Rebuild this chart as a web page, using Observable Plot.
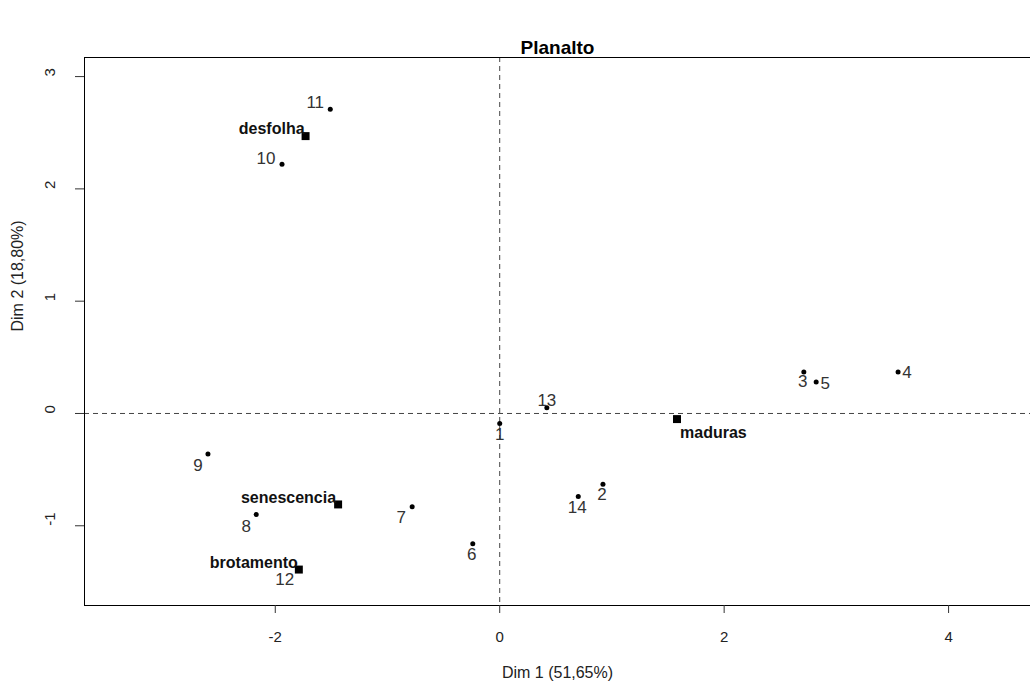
<!DOCTYPE html>
<html><head><meta charset="utf-8">
<script src="https://cdn.jsdelivr.net/npm/d3@7"></script>
<script src="https://cdn.jsdelivr.net/npm/@observablehq/plot@0.6"></script>
<style>body{margin:0;background:#fff} svg{display:block}</style>
</head><body><div id="chart"></div>
<script>
// ---- data ----
const rowNames = ["1","2","3","4","5","6","7","8","9","10","11","12","13","14"];
const rowDim1  = [0.00, 0.92, 2.71, 3.55, 2.82, -0.24, -0.78, -2.17, -2.60, -1.94, -1.51, -1.80, 0.42, 0.70];
const rowDim2  = [-0.09, -0.63, 0.37, 0.37, 0.28, -1.16, -0.83, -0.90, -0.36, 2.22, 2.71, -1.38, 0.05, -0.74];
const colNames = ["desfolha","senescencia","brotamento","maduras"];
const colDim1  = [-1.73, -1.44, -1.79, 1.58];
const colDim2  = [2.47, -0.81, -1.39, -0.05];
const xTicks = [-2, 0, 2, 4];
const yTicks = [-1, 0, 1, 2, 3];
const title = "Planalto";
const xTitle = "Dim 1 (51,65%)";
const yTitle = "Dim 2 (18,80%)";

// ---- layout (label nudges in px, not data) ----
const rowNudge = [[0,11],[-1,10],[-1,10],[9,1],[9,2],[-1,11],[-11,11],[-10,12],[-10,12],[-16,-6],[-15,-7],[-13,11],[0,-7],[-1,11]];
const colNudge = [[-1,-7,"end"],[-2,-7,"end"],[-1,-7,"end"],[3,14,"start"]];

const rows = rowNames.map((n,i)=>({name:n, d1:rowDim1[i], d2:rowDim2[i]}));
const cols = colNames.map((n,i)=>({name:n, d1:colDim1[i], d2:colDim2[i]}));
const xDomain = [-3.70, 4.73];
const yDomain = [-1.71, 3.17];
const FONT = "Liberation Sans, Arial, Helvetica, sans-serif";

const marks = [
  Plot.ruleX([0], {stroke:"#444", strokeDasharray:"5,4"}),
  Plot.ruleY([0], {stroke:"#444", strokeDasharray:"5,4"}),
  Plot.ruleX([xDomain[0]], {stroke:"#000"}),
  Plot.ruleY(yDomain, {stroke:"#000"}),
  Plot.axisX({ticks:xTicks, tickSize:8, tickFormat:()=>"", label:null, stroke:"#333"}),
  Plot.axisY({ticks:yTicks, tickSize:9, tickFormat:()=>"", label:null, stroke:"#333"}),
  Plot.text(xTicks, {x:d=>d, text:d=>String(d), frameAnchor:"bottom", dy:32, lineAnchor:"middle", fontSize:15, fill:"#222"}),
  Plot.text(yTicks, {y:d=>d, text:d=>String(d), frameAnchor:"left", dx:-34, rotate:-90, fontSize:15, fill:"#222"}),
  Plot.text([xTitle], {frameAnchor:"bottom", dy:72, fontSize:16, fill:"#222"}),
  Plot.text([yTitle], {frameAnchor:"left", dx:-67, rotate:-90, fontSize:16, fill:"#222"}),
  Plot.text([title], {frameAnchor:"top", dy:-10, lineAnchor:"middle", fontSize:19, fontWeight:"bold", fill:"#000"}),
  Plot.dot(rows, {x:"d1", y:"d2", r:2.5, fill:"#000", stroke:null}),
  Plot.dot(cols, {x:"d1", y:"d2", r:4.5, symbol:"square", fill:"#000", stroke:null}),
  ...rows.map((d,i)=>Plot.text([d], {x:"d1", y:"d2", text:"name", dx:rowNudge[i][0], dy:rowNudge[i][1], fontSize:17, fill:"#333"})),
  ...cols.map((d,i)=>Plot.text([d], {x:"d1", y:"d2", text:"name", dx:colNudge[i][0], dy:colNudge[i][1], textAnchor:colNudge[i][2], fontSize:16, fontWeight:"bold", fill:"#111"}))
];

const chart = Plot.plot({
  width:1030, height:689,
  marginLeft:84, marginRight:0, marginTop:57, marginBottom:84,
  style:{fontFamily:FONT, background:"#fff", overflow:"visible"},
  x:{domain:xDomain, axis:null},
  y:{domain:yDomain, axis:null},
  marks
});
document.getElementById("chart").appendChild(chart);
</script>
</body></html>
